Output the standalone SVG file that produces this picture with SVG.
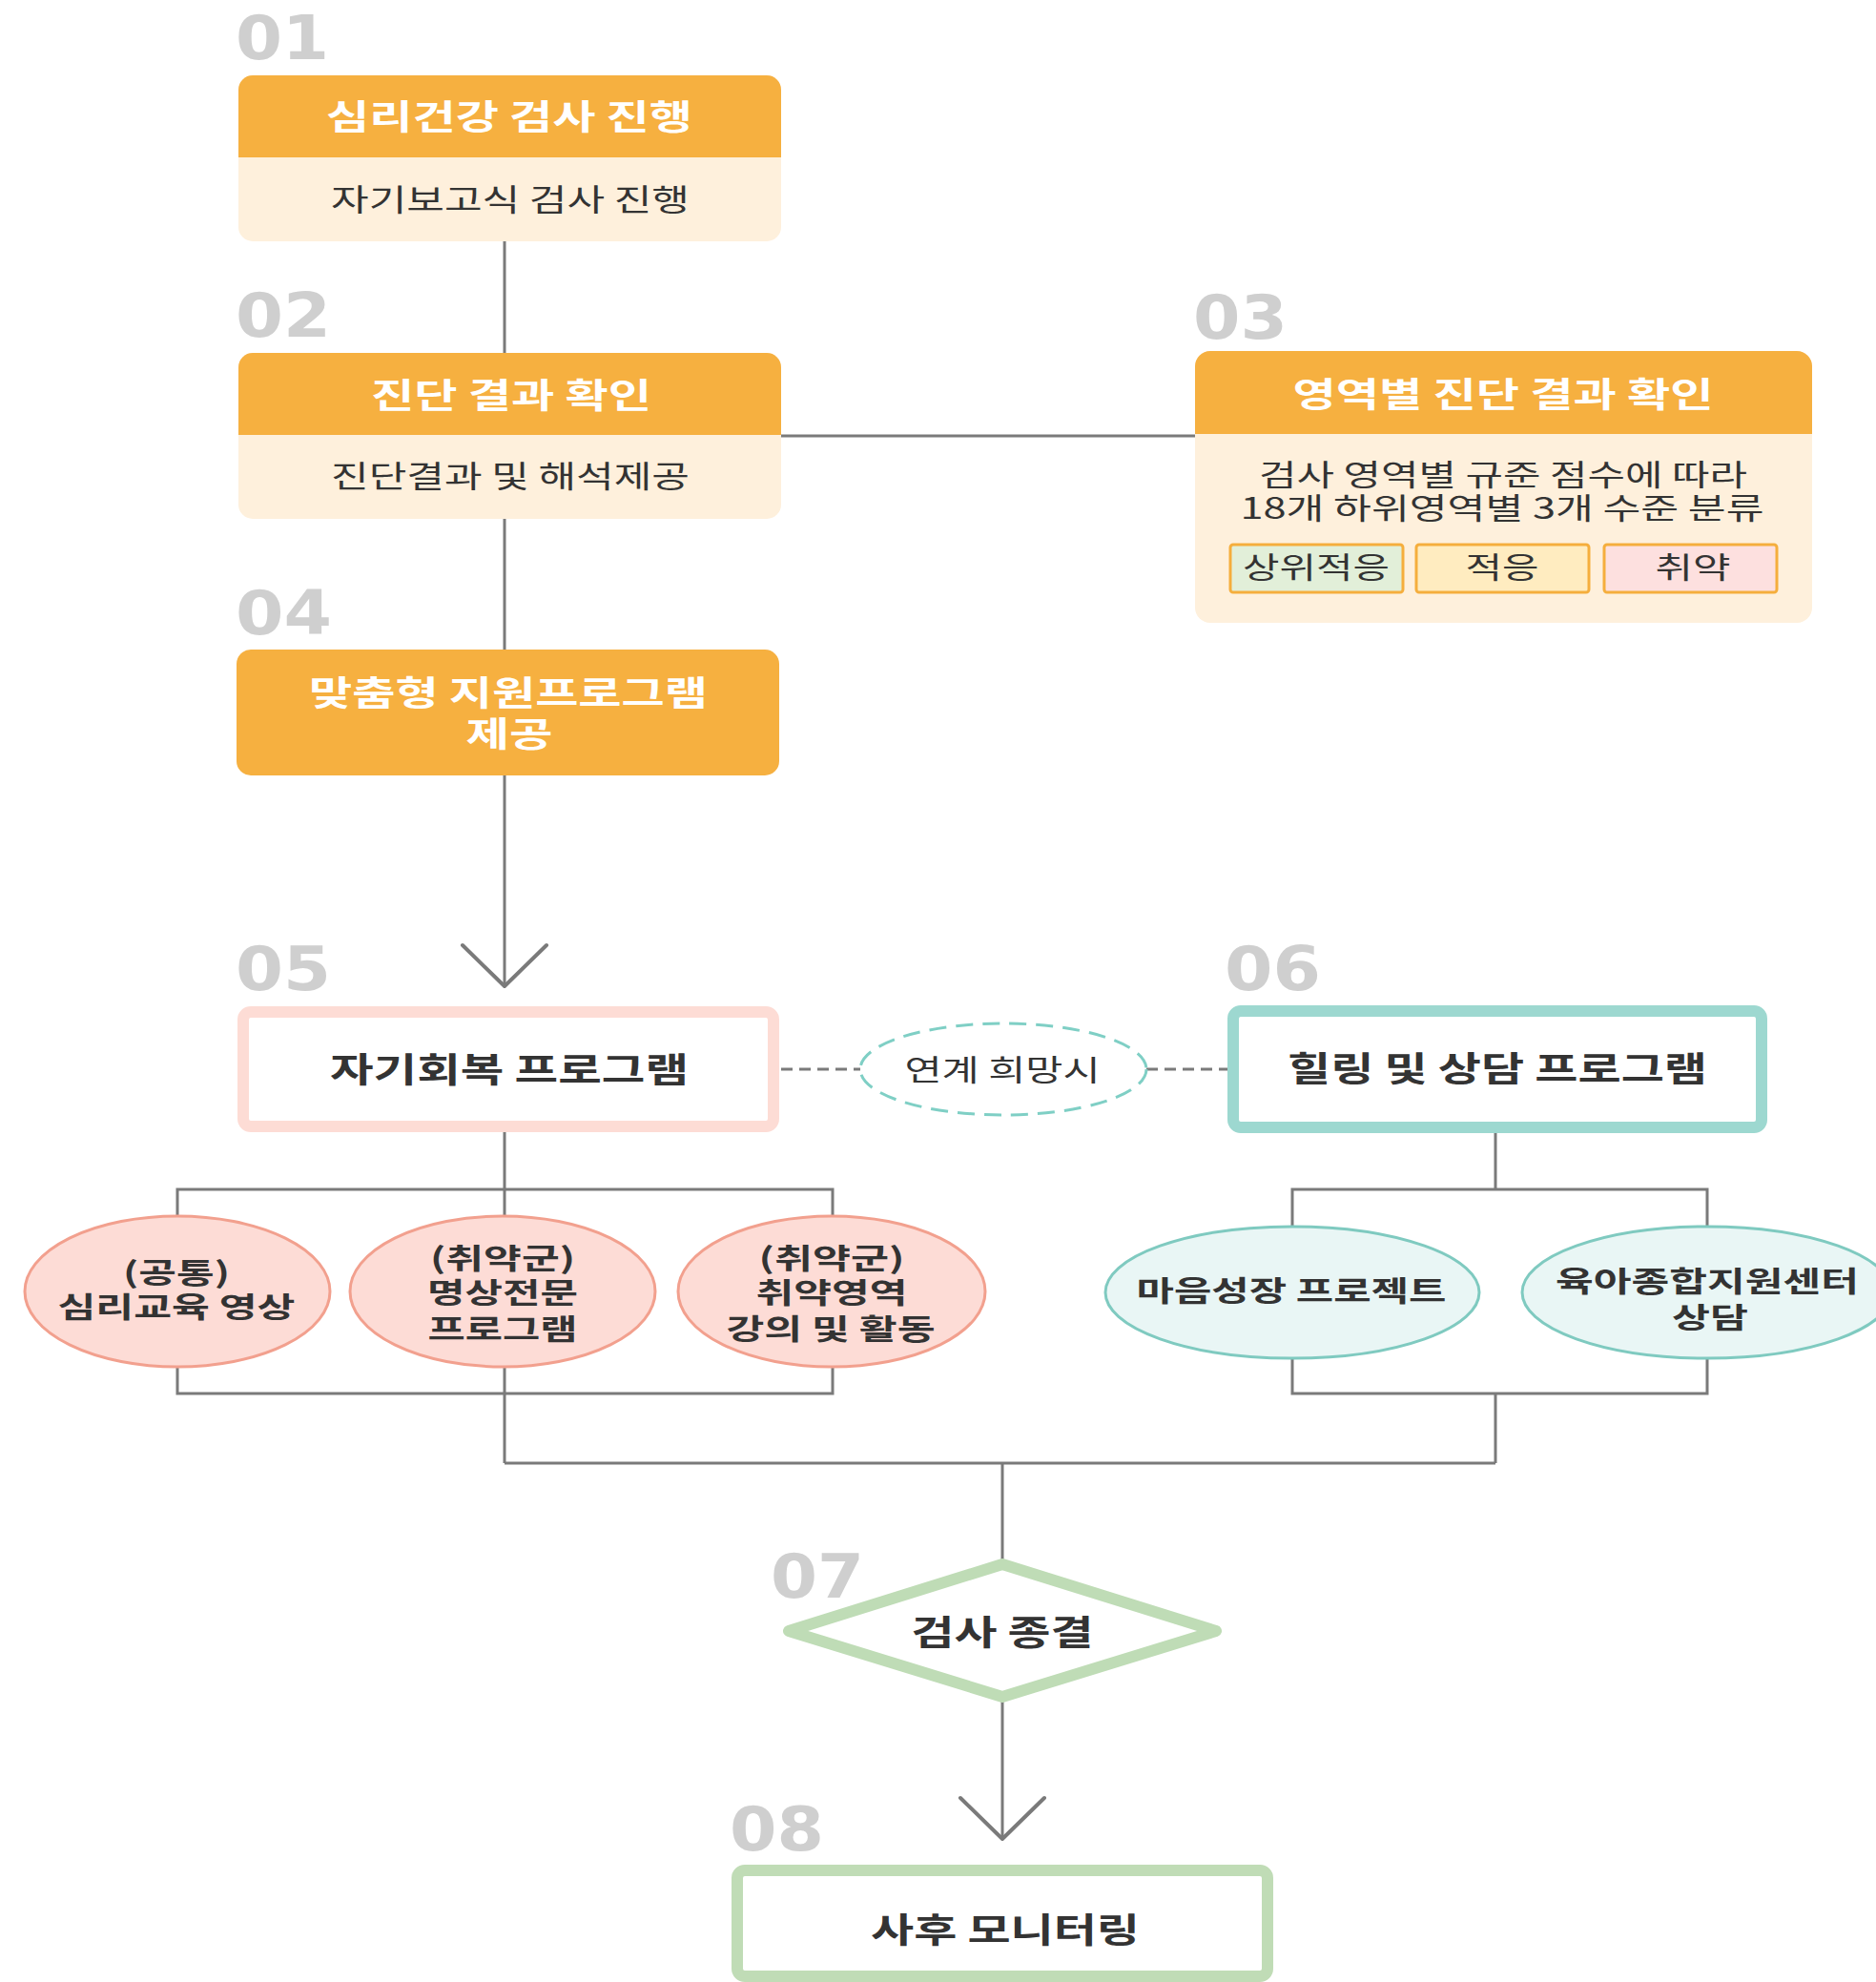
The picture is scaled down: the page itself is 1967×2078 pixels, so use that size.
<svg xmlns="http://www.w3.org/2000/svg" width="1967" height="2078" viewBox="0 0 1967 2078">
<defs>
<style>
.num{font-family:"DejaVu Sans","Liberation Sans",sans-serif;font-weight:bold;font-size:64px;fill:#cfcfcf}
.hd{font-family:"Noto Sans CJK KR","Noto Sans",sans-serif;font-weight:bold;font-size:36px;fill:#ffffff;text-anchor:middle}
.bd{font-family:"Noto Sans CJK KR","Noto Sans",sans-serif;font-size:32px;fill:#333333;text-anchor:middle}
.sm{font-family:"Noto Sans CJK KR","Noto Sans",sans-serif;font-size:31px;fill:#333333;text-anchor:middle}
.bt{font-family:"Noto Sans CJK KR","Noto Sans",sans-serif;font-weight:bold;font-size:36px;fill:#333333;text-anchor:middle}
.et{font-family:"Noto Sans CJK KR","Noto Sans",sans-serif;font-weight:bold;font-size:30px;fill:#333333;text-anchor:middle}
.hdr{fill:#F6B040}
.body{fill:#FEF0DC}
.ln{fill:none;stroke:#7a7a7a;stroke-width:3}
.arr{fill:none;stroke:#7a7a7a;stroke-width:4;stroke-linecap:round;stroke-linejoin:round}
.dl{fill:none;stroke:#7a7a7a;stroke-width:3;stroke-dasharray:12 7}
.pe{fill:#FDDCD6;stroke:#F2A08E;stroke-width:3}
.te{fill:#E9F6F5;stroke:#7FCAC0;stroke-width:3}
.tag{stroke:#F5AE3D;stroke-width:3}
</style>
</defs>
<rect width="1967" height="2078" fill="#ffffff"/>

<g id="connectors">
<path class="ln" d="M529 253V370M529 544V681M819 457H1253M529 813V1032"/>
<path class="arr" d="M485 991L529 1034L573 991"/>
<path class="dl" d="M819 1121H902M1202 1121H1287"/>
<path class="ln" d="M529 1187V1247M186 1275V1247H873V1275M529 1247V1275M186 1433V1461H873V1433M529 1433V1534"/>
<path class="ln" d="M1568 1187V1247M1355 1286V1247H1790V1286M1355 1424V1461H1790V1424M1568 1461V1534"/>
<path class="ln" d="M529 1534H1568M1051 1534V1640M1051 1780V1926"/>
<path class="arr" d="M1007 1885L1051 1928L1095 1885"/>
</g>

<g id="n01">
<text class="num" x="247" y="62" textLength="98" lengthAdjust="spacingAndGlyphs">01</text>
<rect class="body" x="250" y="79" width="569" height="174" rx="15"/>
<path class="hdr" d="M250 165V94A15 15 0 0 1 265 79H804A15 15 0 0 1 819 94V165Z"/>
<text class="hd" x="534" y="136" textLength="384" lengthAdjust="spacingAndGlyphs">심리건강 검사 진행</text>
<text class="bd" x="535" y="221" textLength="376" lengthAdjust="spacingAndGlyphs">자기보고식 검사 진행</text>
</g>

<g id="n02">
<text class="num" x="247" y="353" textLength="100" lengthAdjust="spacingAndGlyphs">02</text>
<rect class="body" x="250" y="370" width="569" height="174" rx="15"/>
<path class="hdr" d="M250 456V385A15 15 0 0 1 265 370H804A15 15 0 0 1 819 385V456Z"/>
<text class="hd" x="536" y="428" textLength="294" lengthAdjust="spacingAndGlyphs">진단 결과 확인</text>
<text class="bd" x="535" y="511" textLength="376" lengthAdjust="spacingAndGlyphs">진단결과 및 해석제공</text>
</g>

<g id="n03">
<text class="num" x="1251" y="355" textLength="99" lengthAdjust="spacingAndGlyphs">03</text>
<rect class="body" x="1253" y="368" width="647" height="285" rx="16"/>
<path class="hdr" d="M1253 455V384A16 16 0 0 1 1269 368H1884A16 16 0 0 1 1900 384V455Z"/>
<text class="hd" x="1576" y="427" textLength="441" lengthAdjust="spacingAndGlyphs">영역별 진단 결과 확인</text>
<text class="sm" x="1576" y="509" textLength="512" lengthAdjust="spacingAndGlyphs">검사 영역별 규준 점수에 따라</text>
<text class="sm" x="1575" y="544" textLength="549" lengthAdjust="spacingAndGlyphs">18개 하위영역별 3개 수준 분류</text>
<rect class="tag" x="1290" y="571" width="181" height="50" rx="3" fill="#E2EFD9"/>
<rect class="tag" x="1485" y="571" width="181" height="50" rx="3" fill="#FFECC0"/>
<rect class="tag" x="1682" y="571" width="181" height="50" rx="3" fill="#FDE0DF"/>
<text class="sm" x="1380" y="606" textLength="154" lengthAdjust="spacingAndGlyphs">상위적응</text>
<text class="sm" x="1575" y="606" textLength="77" lengthAdjust="spacingAndGlyphs">적응</text>
<text class="sm" x="1775" y="606" textLength="79" lengthAdjust="spacingAndGlyphs">취약</text>
</g>

<g id="n04">
<text class="num" x="247" y="665" textLength="101" lengthAdjust="spacingAndGlyphs">04</text>
<rect class="hdr" x="248" y="681" width="569" height="132" rx="15"/>
<text class="hd" x="533" y="740" textLength="418" lengthAdjust="spacingAndGlyphs">맞춤형 지원프로그램</text>
<text class="hd" x="534" y="783" textLength="91" lengthAdjust="spacingAndGlyphs">제공</text>
</g>

<g id="n05">
<text class="num" x="247" y="1038" textLength="100" lengthAdjust="spacingAndGlyphs">05</text>
<rect x="255" y="1061" width="556" height="120" rx="8" fill="#ffffff" stroke="#FDDCD5" stroke-width="12"/>
<text class="bt" x="534" y="1135" textLength="376" lengthAdjust="spacingAndGlyphs">자기회복 프로그램</text>
</g>

<g id="link">
<ellipse cx="1052" cy="1121" rx="150" ry="48" fill="#ffffff" stroke="#7FCFC5" stroke-width="3" stroke-dasharray="18 10"/>
<text class="sm" x="1051" y="1133" textLength="205" lengthAdjust="spacingAndGlyphs">연계 희망시</text>
</g>

<g id="n06">
<text class="num" x="1284" y="1038" textLength="101" lengthAdjust="spacingAndGlyphs">06</text>
<rect x="1293" y="1060" width="554" height="122" rx="8" fill="#ffffff" stroke="#9DD8D0" stroke-width="12"/>
<text class="bt" x="1570" y="1134" textLength="440" lengthAdjust="spacingAndGlyphs">힐링 및 상담 프로그램</text>
</g>

<g id="e1">
<ellipse class="pe" cx="186" cy="1354" rx="160" ry="79"/>
<text class="et" x="185" y="1345" textLength="112" lengthAdjust="spacingAndGlyphs">(공통)</text>
<text class="et" x="185" y="1381" textLength="249" lengthAdjust="spacingAndGlyphs">심리교육 영상</text>
</g>
<g id="e2">
<ellipse class="pe" cx="527" cy="1354" rx="160" ry="79"/>
<text class="et" x="527" y="1330" textLength="152" lengthAdjust="spacingAndGlyphs">(취약군)</text>
<text class="et" x="527" y="1366" textLength="158" lengthAdjust="spacingAndGlyphs">명상전문</text>
<text class="et" x="527" y="1404" textLength="157" lengthAdjust="spacingAndGlyphs">프로그램</text>
</g>
<g id="e3">
<ellipse class="pe" cx="872" cy="1354" rx="161" ry="79"/>
<text class="et" x="872" y="1330" textLength="153" lengthAdjust="spacingAndGlyphs">(취약군)</text>
<text class="et" x="872" y="1366" textLength="159" lengthAdjust="spacingAndGlyphs">취약영역</text>
<text class="et" x="871" y="1404" textLength="219" lengthAdjust="spacingAndGlyphs">강의 및 활동</text>
</g>
<g id="e4">
<ellipse class="te" cx="1355" cy="1355" rx="196" ry="69"/>
<text class="et" x="1354" y="1364" textLength="325" lengthAdjust="spacingAndGlyphs">마음성장 프로젝트</text>
</g>
<g id="e5">
<ellipse class="te" cx="1790" cy="1355" rx="194" ry="69"/>
<text class="et" x="1790" y="1354" textLength="318" lengthAdjust="spacingAndGlyphs">육아종합지원센터</text>
<text class="et" x="1793" y="1392" textLength="80" lengthAdjust="spacingAndGlyphs">상담</text>
</g>

<g id="n07">
<text class="num" x="808" y="1675" textLength="98" lengthAdjust="spacingAndGlyphs">07</text>
<path d="M1051 1640L1275 1710L1051 1779L827 1710Z" fill="#ffffff" stroke="#BFDCB6" stroke-width="12" stroke-linejoin="round"/>
<text class="bt" x="1051" y="1725" textLength="191" lengthAdjust="spacingAndGlyphs">검사 종결</text>
</g>

<g id="n08">
<text class="num" x="765" y="1940" textLength="99" lengthAdjust="spacingAndGlyphs">08</text>
<rect x="773" y="1961" width="556" height="111" rx="8" fill="#ffffff" stroke="#C0DCB6" stroke-width="12"/>
<text class="bt" x="1054" y="2037" textLength="282" lengthAdjust="spacingAndGlyphs">사후 모니터링</text>
</g>
</svg>
